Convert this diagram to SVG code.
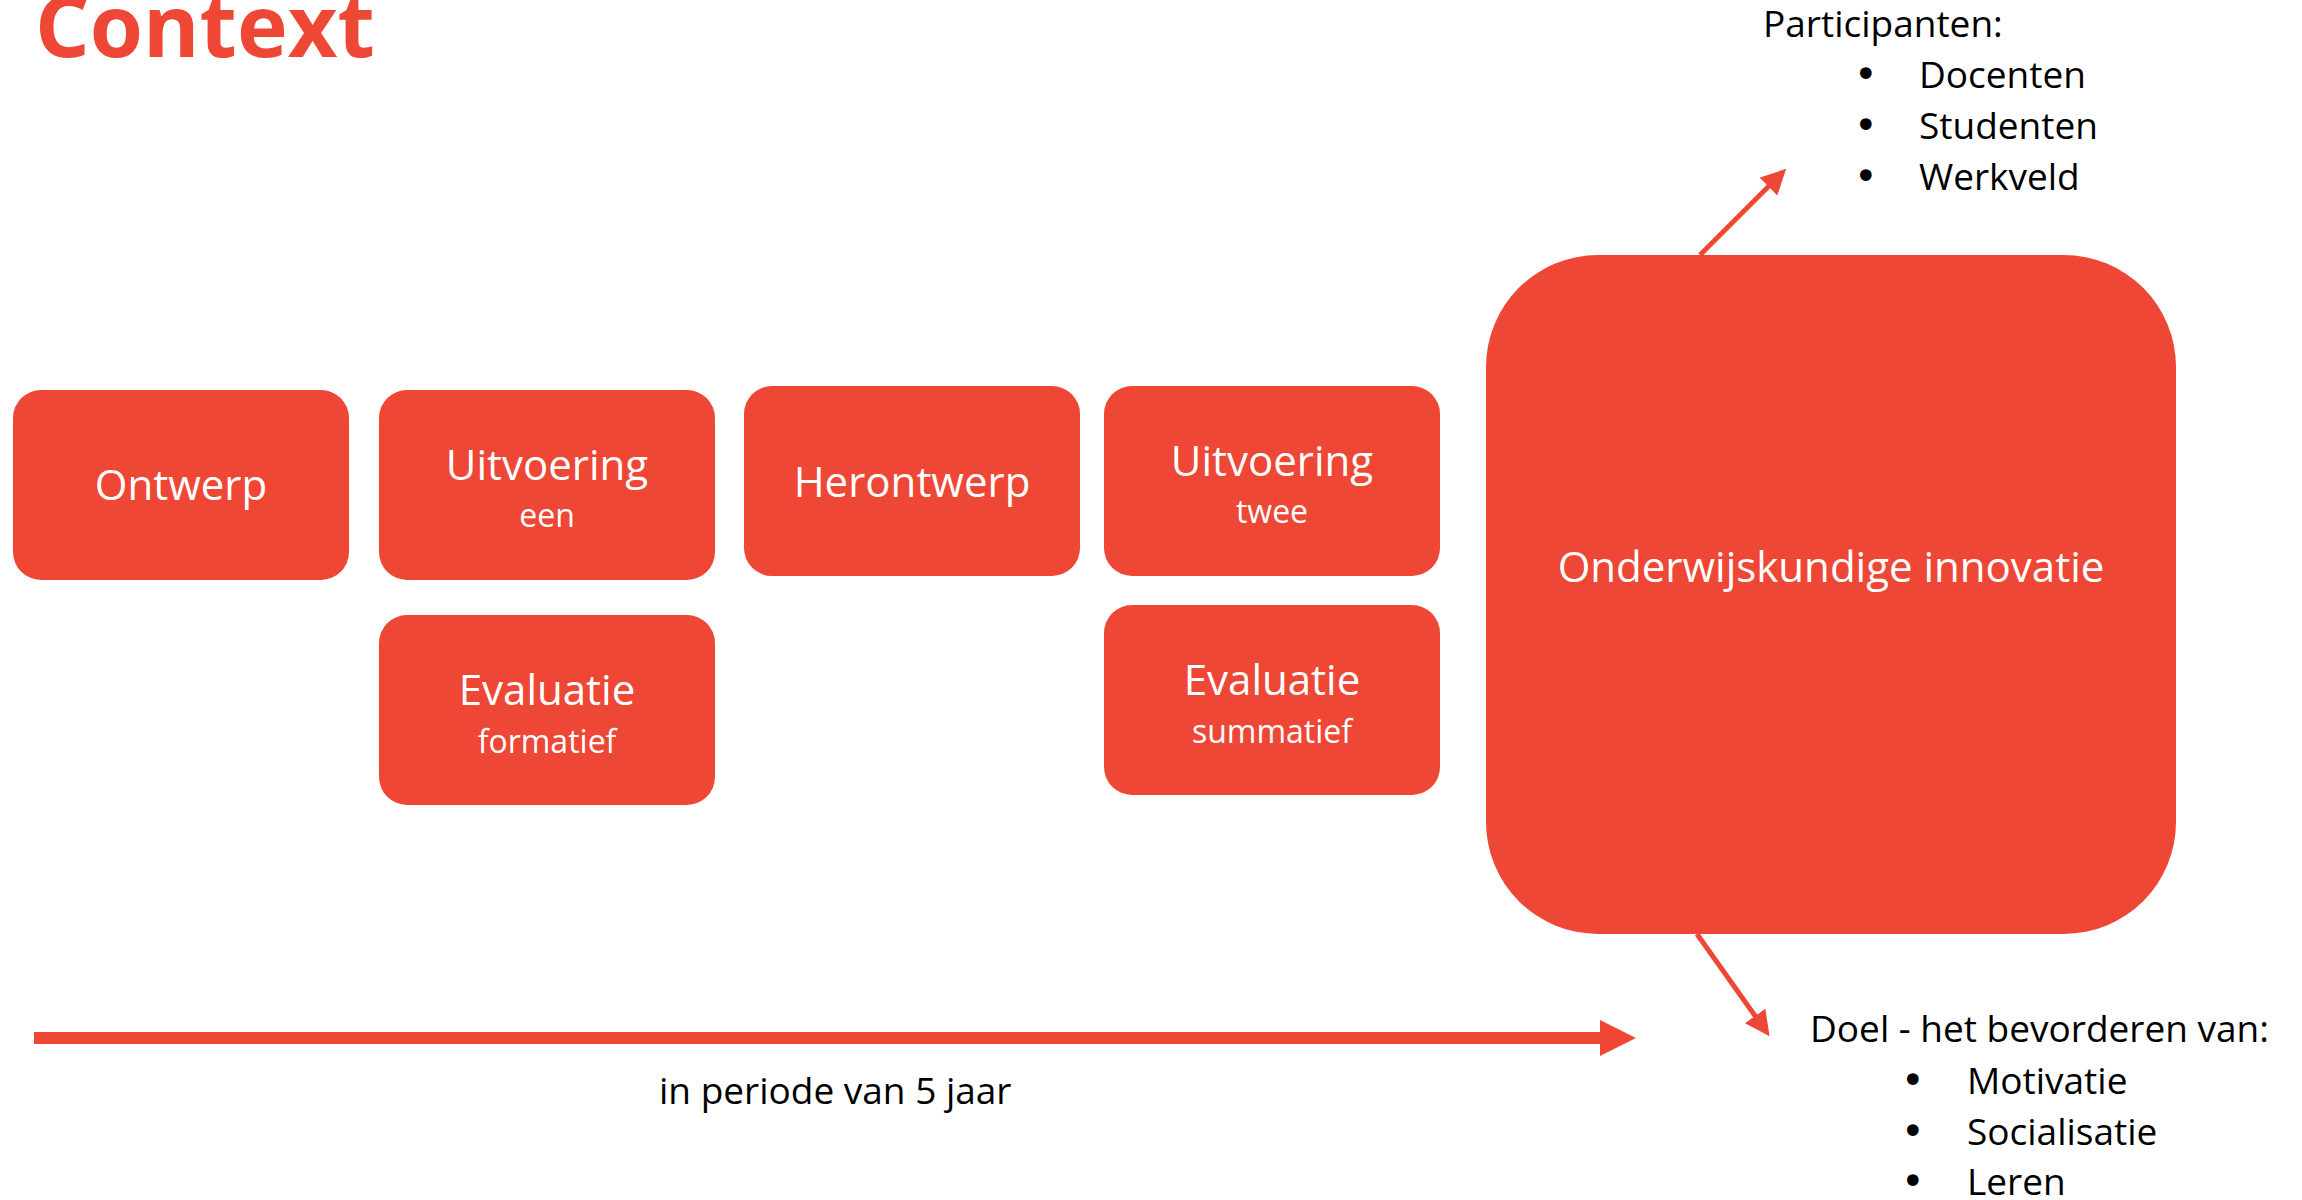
<svg xmlns="http://www.w3.org/2000/svg" width="2302" height="1200" viewBox="0 0 2302 1200">
<defs>
<style>
.box{fill:#EE4736;}
.wt{font-family:"Open Sans","Liberation Sans",sans-serif;fill:#fff;text-anchor:middle;}
.main{font-size:42px;}
.sub{font-size:32px;}
.bt{font-family:"Open Sans","Liberation Sans",sans-serif;fill:#000;font-size:37px;}
.bu{font-family:"DejaVu Sans",sans-serif;fill:#000;font-size:40px;}
.ln{stroke:#EE4736;fill:none;}
</style>
<marker id="ah" markerWidth="5" markerHeight="5" refX="1" refY="2.5" orient="auto" markerUnits="strokeWidth">
<path d="M0,0 L5,2.5 L0,5 z" fill="#EE4736"/>
</marker>
</defs>
<rect width="2302" height="1200" fill="#fff"/>
<text x="35" y="57" font-family="Open Sans, Liberation Sans, sans-serif" font-weight="bold" font-size="86" fill="#EE4736">Context</text>

<g id="ontwerp"><rect class="box" x="13" y="390" width="336" height="190" rx="28"/><text class="wt main" x="181" y="500">Ontwerp</text></g>
<g id="uitvoering-een"><rect class="box" x="379" y="390" width="336" height="190" rx="28"/><text class="wt main" x="547" y="480">Uitvoering</text><text class="wt sub" x="547" y="527">een</text></g>
<g id="evaluatie-formatief"><rect class="box" x="379" y="615" width="336" height="190" rx="28"/><text class="wt main" x="547" y="705">Evaluatie</text><text class="wt sub" x="547" y="753">formatief</text></g>
<g id="herontwerp"><rect class="box" x="744" y="386" width="336" height="190" rx="28"/><text class="wt main" x="912" y="497">Herontwerp</text></g>
<g id="uitvoering-twee"><rect class="box" x="1104" y="386" width="336" height="190" rx="28"/><text class="wt main" x="1272" y="476">Uitvoering</text><text class="wt sub" x="1272" y="523">twee</text></g>
<g id="evaluatie-summatief"><rect class="box" x="1104" y="605" width="336" height="190" rx="28"/><text class="wt main" x="1272" y="695">Evaluatie</text><text class="wt sub" x="1272" y="743">summatief</text></g>
<g id="innovatie"><rect class="box" x="1486" y="255" width="690" height="679" rx="112"/><text class="wt main" x="1831" y="582">Onderwijskundige innovatie</text></g>

<g id="connectors">
<line class="ln" x1="34" y1="1038" x2="1602" y2="1038" stroke-width="12"/>
<path d="M1600,1020 L1636,1038 L1600,1056 z" fill="#EE4736"/>
<line class="ln" x1="1700" y1="255" x2="1772" y2="183" stroke-width="5" marker-end="url(#ah)"/>
<line class="ln" x1="1697" y1="934" x2="1758" y2="1020" stroke-width="5" marker-end="url(#ah)"/>
</g>

<g id="participanten">
<text class="bt" x="1763" y="37">Participanten:</text>
<text class="bu" x="1854" y="88">•</text><text class="bt" x="1919" y="88">Docenten</text>
<text class="bu" x="1854" y="139">•</text><text class="bt" x="1919" y="139">Studenten</text>
<text class="bu" x="1854" y="190">•</text><text class="bt" x="1919" y="190">Werkveld</text>
</g>
<g id="doel">
<text class="bt" x="1810" y="1042">Doel - het bevorderen van:</text>
<text class="bu" x="1901" y="1094">•</text><text class="bt" x="1967" y="1094">Motivatie</text>
<text class="bu" x="1901" y="1145">•</text><text class="bt" x="1967" y="1145">Socialisatie</text>
<text class="bu" x="1901" y="1195">•</text><text class="bt" x="1967" y="1195">Leren</text>
</g>
<text class="bt" x="659" y="1104">in periode van 5 jaar</text>
</svg>
